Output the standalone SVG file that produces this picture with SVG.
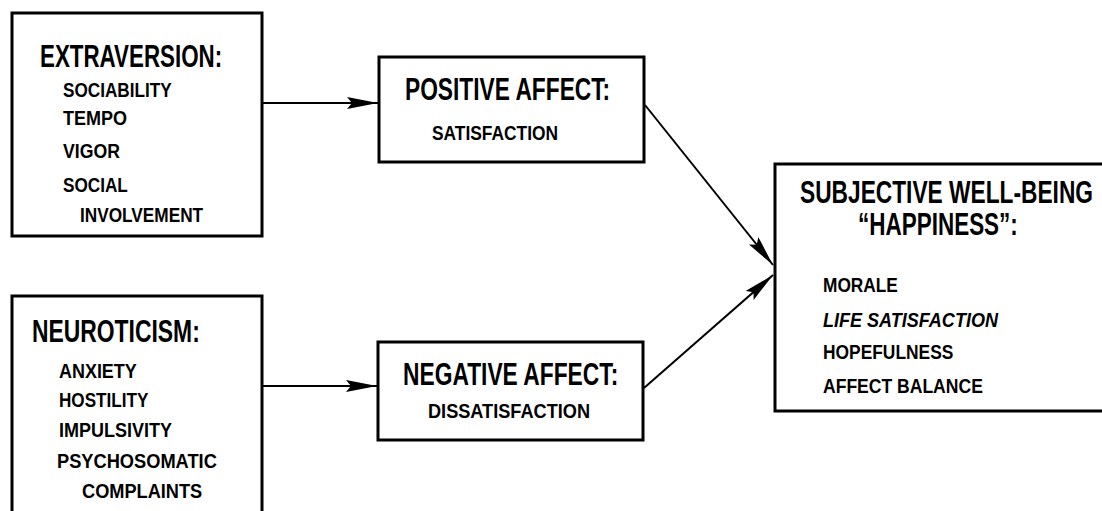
<svg xmlns="http://www.w3.org/2000/svg" width="1102" height="511" viewBox="0 0 1102 511">
  <style>
    .box { fill: #fff; stroke: #000; stroke-width: 3; }
    .edge { fill: none; stroke: #000; stroke-width: 2; }
    text { font-family: "Liberation Sans", Arial, sans-serif; font-weight: bold; fill: #000; }
    .head { font-size: 31px; }
    .item { font-size: 21px; }
    .it { font-style: italic; }
  </style>
  <defs>
    <marker id="arrow" markerUnits="userSpaceOnUse" markerWidth="34" markerHeight="14" refX="31" refY="6" orient="auto">
      <path d="M0,0 L31,6 L0,12 L5,6 Z" fill="#000"/>
    </marker>
  </defs>

  <rect width="1102" height="511" fill="#fff"/>

  <!-- lettering is set in a condensed face: each line is narrowed with scale(0.72,1) -->
  <g id="extraversion">
    <rect class="box" x="12" y="13" width="250" height="223"/>
    <text class="head" transform="translate(40,67) scale(0.72,1)" textLength="253" lengthAdjust="spacingAndGlyphs">EXTRAVERSION:</text>
    <text class="item" transform="translate(63,97) scale(0.72,1)" textLength="151" lengthAdjust="spacingAndGlyphs">SOCIABILITY</text>
    <text class="item" transform="translate(63,125) scale(0.72,1)" textLength="89" lengthAdjust="spacingAndGlyphs">TEMPO</text>
    <text class="item" transform="translate(63,158) scale(0.72,1)" textLength="79" lengthAdjust="spacingAndGlyphs">VIGOR</text>
    <text class="item" transform="translate(63,192) scale(0.72,1)" textLength="90" lengthAdjust="spacingAndGlyphs">SOCIAL</text>
    <text class="item" transform="translate(80,222) scale(0.72,1)" textLength="171" lengthAdjust="spacingAndGlyphs">INVOLVEMENT</text>
  </g>

  <g id="neuroticism">
    <rect class="box" x="12" y="296" width="250" height="230"/>
    <text class="head" transform="translate(32,342) scale(0.72,1)" textLength="233" lengthAdjust="spacingAndGlyphs">NEUROTICISM:</text>
    <text class="item" transform="translate(59,378) scale(0.72,1)" textLength="108" lengthAdjust="spacingAndGlyphs">ANXIETY</text>
    <text class="item" transform="translate(59,407) scale(0.72,1)" textLength="124" lengthAdjust="spacingAndGlyphs">HOSTILITY</text>
    <text class="item" transform="translate(59,437) scale(0.72,1)" textLength="157" lengthAdjust="spacingAndGlyphs">IMPULSIVITY</text>
    <text class="item" transform="translate(57,468) scale(0.72,1)" textLength="222" lengthAdjust="spacingAndGlyphs">PSYCHOSOMATIC</text>
    <text class="item" transform="translate(82,498) scale(0.72,1)" textLength="167" lengthAdjust="spacingAndGlyphs">COMPLAINTS</text>
  </g>

  <g id="positive-affect">
    <rect class="box" x="379" y="57" width="265" height="105"/>
    <text class="head" transform="translate(405,100) scale(0.72,1)" textLength="285" lengthAdjust="spacingAndGlyphs">POSITIVE AFFECT:</text>
    <text class="item" transform="translate(432,140) scale(0.72,1)" textLength="175" lengthAdjust="spacingAndGlyphs">SATISFACTION</text>
  </g>

  <g id="negative-affect">
    <rect class="box" x="378" y="342" width="265" height="98"/>
    <text class="head" transform="translate(403,385) scale(0.72,1)" textLength="299" lengthAdjust="spacingAndGlyphs">NEGATIVE AFFECT:</text>
    <text class="item" transform="translate(428,418) scale(0.72,1)" textLength="225" lengthAdjust="spacingAndGlyphs">DISSATISFACTION</text>
  </g>

  <g id="subjective-well-being">
    <rect class="box" x="775" y="164" width="340" height="247"/>
    <text class="head" transform="translate(800,203) scale(0.72,1)" textLength="407" lengthAdjust="spacingAndGlyphs">SUBJECTIVE WELL-BEING</text>
    <text class="head" transform="translate(858,235) scale(0.72,1)" textLength="222" lengthAdjust="spacingAndGlyphs">“HAPPINESS”:</text>
    <text class="item" transform="translate(823,292) scale(0.72,1)" textLength="104" lengthAdjust="spacingAndGlyphs">MORALE</text>
    <text class="item it" transform="translate(823,327) scale(0.72,1)" textLength="243" lengthAdjust="spacingAndGlyphs">LIFE SATISFACTION</text>
    <text class="item" transform="translate(823,359) scale(0.72,1)" textLength="181" lengthAdjust="spacingAndGlyphs">HOPEFULNESS</text>
    <text class="item" transform="translate(823,393) scale(0.72,1)" textLength="222" lengthAdjust="spacingAndGlyphs">AFFECT BALANCE</text>
  </g>

  <g id="connectors">
    <line class="edge" x1="262" y1="103" x2="378" y2="103" marker-end="url(#arrow)"/>
    <line class="edge" x1="262" y1="386" x2="377" y2="386" marker-end="url(#arrow)"/>
    <line class="edge" x1="645" y1="105" x2="773" y2="265" marker-end="url(#arrow)"/>
    <line class="edge" x1="644" y1="388" x2="773" y2="275" marker-end="url(#arrow)"/>
  </g>
</svg>
